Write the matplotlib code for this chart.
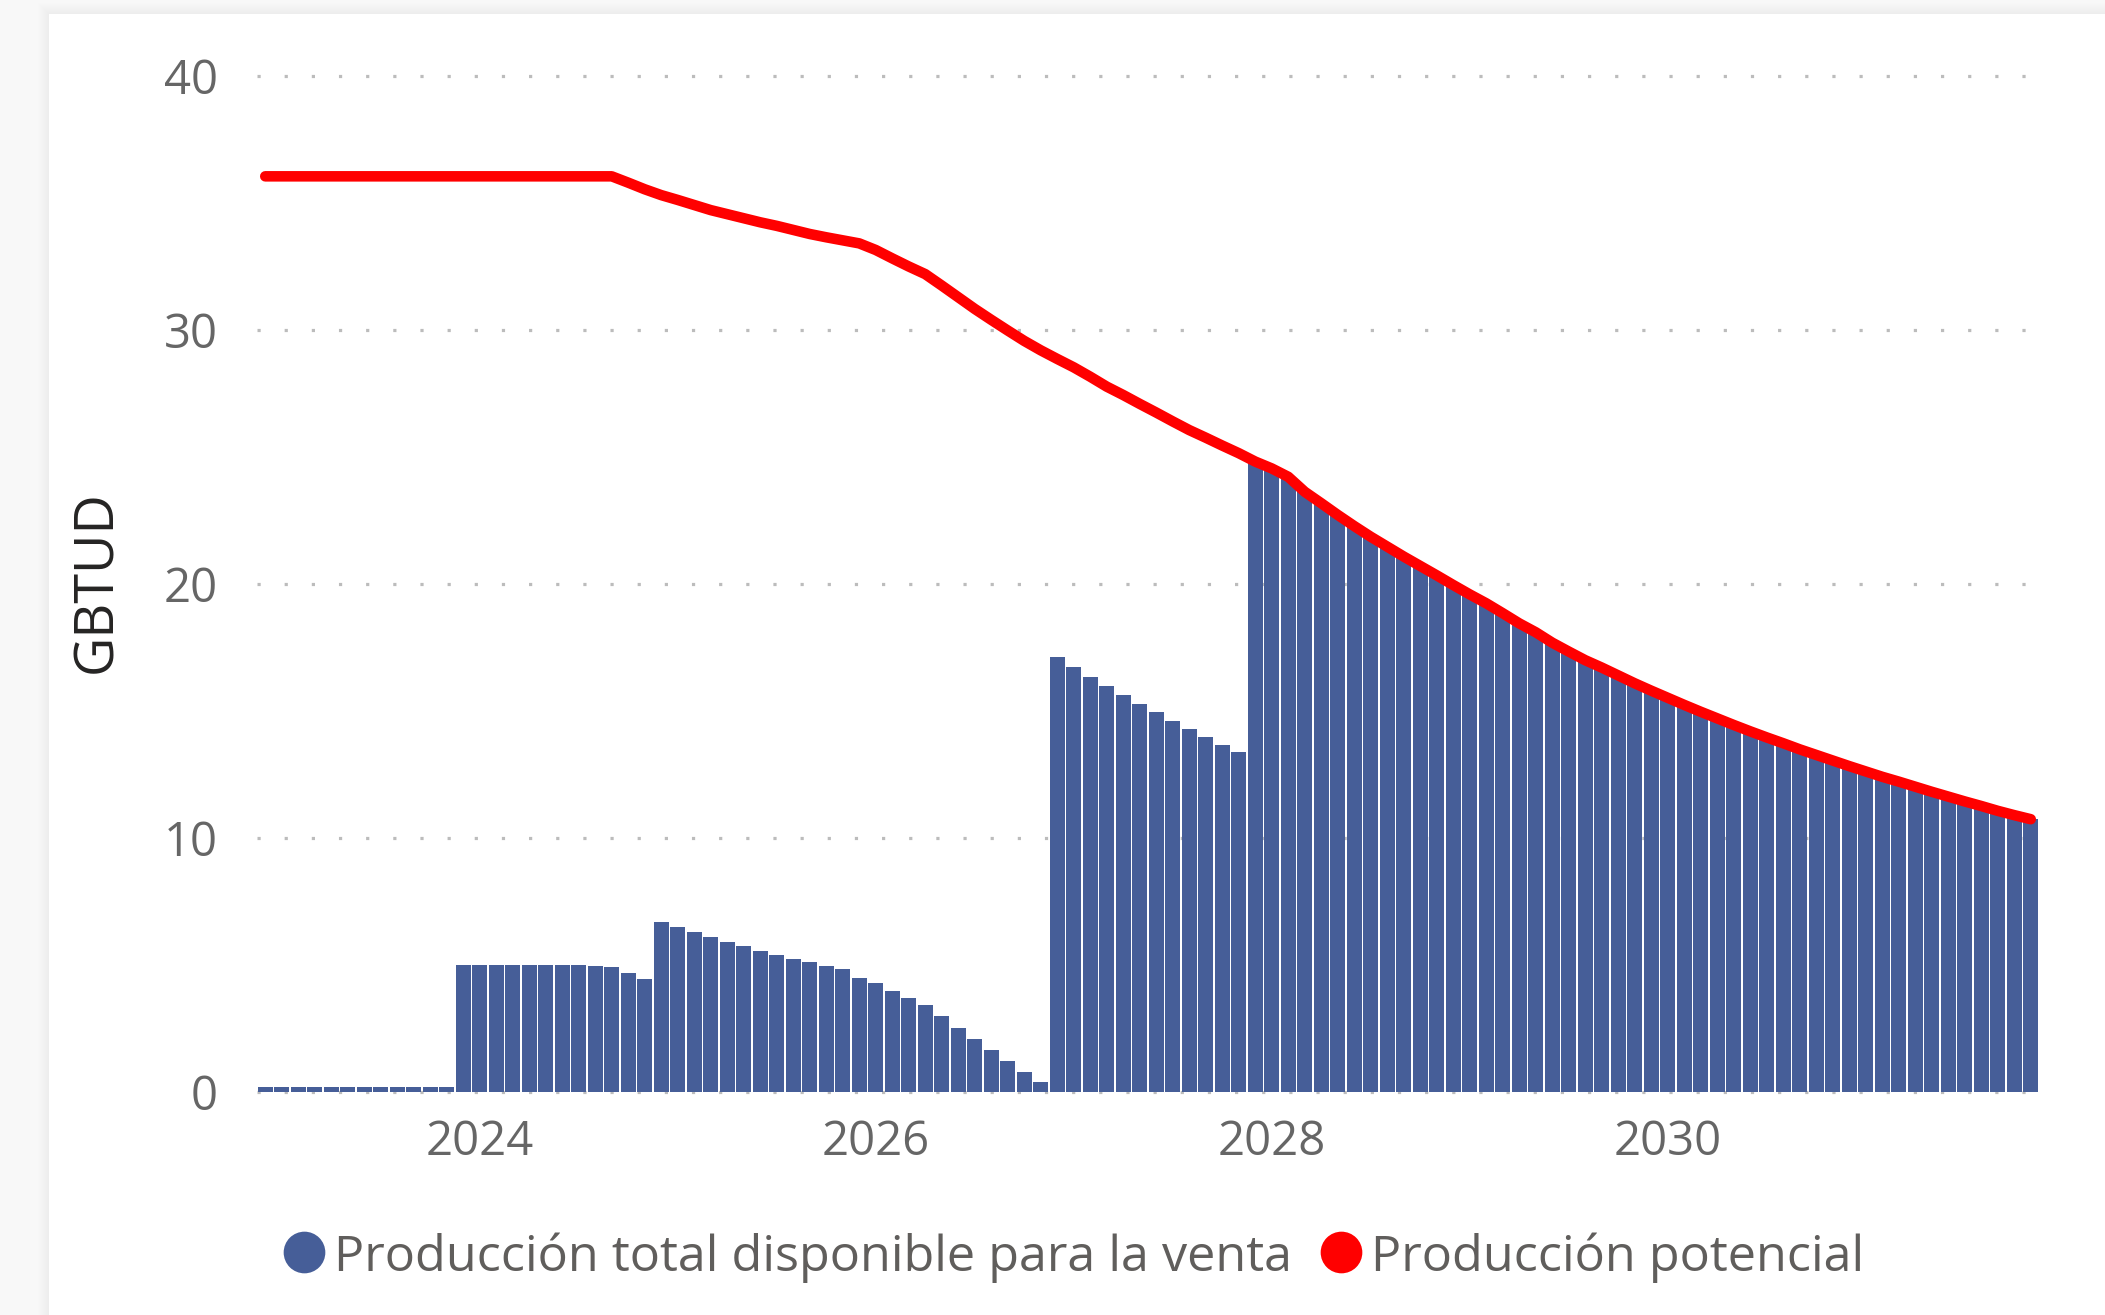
import matplotlib
matplotlib.use("Agg")
import matplotlib.pyplot as plt
from matplotlib.lines import Line2D
from matplotlib.patches import Rectangle
import numpy as np
import pandas as pd

# ---------------- data ----------------
start_month = "2022-12"
n_months = 108
months = pd.date_range(start_month, periods=n_months, freq="MS")

produccion_disponible = [
    0.2, 0.2, 0.2, 0.2, 0.2, 0.2, 0.2, 0.2, 0.2, 0.2, 0.2, 0.2,
    5.0, 5.0, 5.0, 5.0, 5.0, 5.0, 5.0, 5.0, 4.96, 4.92, 4.69, 4.45,
    6.69, 6.50, 6.30, 6.10, 5.91, 5.75, 5.55, 5.39, 5.24, 5.12, 4.96, 4.84,
    4.49, 4.29, 3.98, 3.70, 3.43, 2.99, 2.52, 2.09, 1.65, 1.22, 0.79, 0.39,
    17.13, 16.73, 16.34, 15.98, 15.63, 15.28, 14.96, 14.61, 14.29, 13.98, 13.66, 13.39,
    24.82, 24.55, 24.22, 23.63, 23.18, 22.72, 22.28, 21.86, 21.47, 21.08, 20.71, 20.34,
    19.96, 19.59, 19.24, 18.85, 18.45, 18.10, 17.69, 17.34, 17.00, 16.71, 16.40, 16.09,
    15.80, 15.52, 15.24, 14.97, 14.71, 14.45, 14.20, 13.96, 13.73, 13.49, 13.27, 13.05,
    12.83, 12.62, 12.41, 12.22, 12.02, 11.82, 11.63, 11.44, 11.26, 11.07, 10.90, 10.74,
]

produccion_potencial = [
    36.05, 36.05, 36.05, 36.05, 36.05, 36.05, 36.05, 36.05, 36.05, 36.05, 36.05, 36.05,
    36.05, 36.05, 36.05, 36.05, 36.05, 36.05, 36.05, 36.05, 36.05, 36.05, 35.80, 35.54,
    35.31, 35.12, 34.92, 34.72, 34.56, 34.40, 34.24, 34.10, 33.94, 33.78, 33.65, 33.53,
    33.41, 33.15, 32.82, 32.50, 32.20, 31.75, 31.29, 30.83, 30.40, 29.98, 29.57, 29.20,
    28.86, 28.53, 28.16, 27.77, 27.44, 27.09, 26.75, 26.40, 26.06, 25.76, 25.45, 25.15,
    24.82, 24.55, 24.22, 23.63, 23.18, 22.72, 22.28, 21.86, 21.47, 21.08, 20.71, 20.34,
    19.96, 19.59, 19.24, 18.85, 18.45, 18.10, 17.69, 17.34, 17.00, 16.71, 16.40, 16.09,
    15.80, 15.52, 15.24, 14.97, 14.71, 14.45, 14.20, 13.96, 13.73, 13.49, 13.27, 13.05,
    12.83, 12.62, 12.41, 12.22, 12.02, 11.82, 11.63, 11.44, 11.26, 11.07, 10.90, 10.74,
]

tick_years = [2024, 2026, 2028, 2030]
y_ticks = [0, 10, 20, 30, 40]
series_names = ["Producción total disponible para la venta", "Producción potencial"]
y_title = "GBTUD"

# ---------------- style ----------------
FONT = ["Open Sans", "DejaVu Sans"]
plt.rcParams["font.family"] = FONT
BAR_COLOR = "#465e98"
LINE_COLOR = "#ff0000"
TICK_COLOR = "#666666"
LEGEND_COLOR = "#605e5c"

W, H = 2105, 1315
fig = plt.figure(figsize=(W / 100, H / 100), dpi=100)
fig.patch.set_facecolor("#f8f8f8")

# card shadow + card
card_x, card_top = 49, 14
for i in range(1, 12):
    fig.add_artist(Rectangle(((card_x - i) / W, 0), 1.2, (H - card_top + i) / H,
                             transform=fig.transFigure, facecolor="black",
                             alpha=0.004, edgecolor="none", zorder=-2))
fig.add_artist(Rectangle((card_x / W, 0), 1.2, (H - card_top) / H,
                         transform=fig.transFigure, facecolor="white",
                         edgecolor="none", zorder=-1))

# axes placement (pixels)
ax_left, ax_right = 257, 2039
y0_px, px_per_unit = 1092, 25.4
ylo, yhi = -0.15, 40.15
ax_bottom_px = y0_px - ylo * px_per_unit
ax_top_px = y0_px - yhi * px_per_unit
ax = fig.add_axes([ax_left / W, 1 - ax_bottom_px / H,
                   (ax_right - ax_left) / W, (ax_bottom_px - ax_top_px) / H])
ax.set_zorder(2)
ax.set_facecolor("none")

x = np.arange(n_months)
ax.bar(x, produccion_disponible, width=0.93, color=BAR_COLOR, zorder=2)
ax.plot(x, produccion_potencial, color=LINE_COLOR, lw=7.6,
        solid_capstyle="round", solid_joinstyle="round", zorder=3)

ax.set_xlim(-0.5, n_months - 0.5)
ax.set_ylim(ylo, yhi)

# grid (dotted)
for v in y_ticks:
    ax.plot([-0.5, n_months - 0.5], [v, v], color="#bcbcbc", lw=2.3,
            linestyle=(0, (1, 7.5)), dash_capstyle="butt", zorder=1,
            solid_capstyle="butt")

ax.set_yticks(y_ticks)
ax.set_yticklabels([str(v) for v in y_ticks])
tick_pos = [int(np.where((months.year == yr) & (months.month == 1))[0][0]) for yr in tick_years]
ax.set_xticks(tick_pos)
ax.set_xticklabels([str(yr) for yr in tick_years])
ax.tick_params(axis="both", length=0, labelsize=34, colors=TICK_COLOR)
ax.tick_params(axis="y", pad=28)
ax.tick_params(axis="x", pad=16)
for s in ax.spines.values():
    s.set_visible(False)

fig.text(97 / W, 1 - 582 / H, y_title, rotation=90, ha="center", va="center",
         fontsize=39, color="#252423", zorder=3)

# legend (manual)
leg_y = 1252
base_y = 1271
for cx, tx, name, col in [(304, 334, series_names[0], BAR_COLOR),
                          (1341, 1371, series_names[1], LINE_COLOR)]:
    fig.add_artist(Line2D([cx / W], [1 - leg_y / H], marker="o", markersize=30,
                          color=col, markeredgewidth=0, transform=fig.transFigure,
                          zorder=3))
    fig.text(tx / W, 1 - base_y / H, name, ha="left", va="baseline",
             fontsize=36.3, color=LEGEND_COLOR, zorder=3)

fig.savefig("out.png", dpi=100, facecolor=fig.get_facecolor())
